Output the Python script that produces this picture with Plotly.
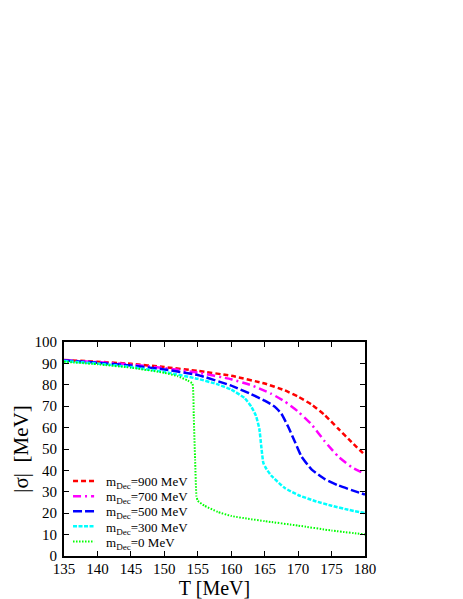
import plotly.graph_objs as go

# temperature grid and |sigma| curves
T_900 = [135, 140, 145, 150, 155, 160, 165, 168, 170, 172, 174, 176, 178, 180]
s_900 = [91.6, 90.8, 89.8, 88.3, 86.5, 84.2, 80.6, 77.4, 74.5, 70.8, 65.8, 59.5, 53.2, 47.2]

T_700 = [135, 140, 145, 150, 155, 160, 163, 166, 168, 170, 172, 174, 176, 178, 180]
s_700 = [91.5, 90.6, 89.5, 87.8, 85.7, 82.6, 79.8, 75.8, 72.2, 67.5, 61.5, 53.5, 46.5, 41.5, 38.3]

T_500 = [135, 140, 145, 150, 155, 160, 163, 165, 166.5, 167.5, 168.5, 169.5, 170.5, 172, 174, 176, 178, 180]
s_500 = [91.4, 90.3, 89.0, 87.2, 84.6, 79.6, 75.6, 72.6, 69.8, 66.5, 60.5, 53.5, 46.5, 40.5, 35.9, 33.0, 30.8, 28.7]

T_300 = [135, 140, 145, 150, 155, 158, 160, 162, 163, 163.7, 164.2, 164.5, 164.8, 165.2, 166, 168, 170, 172.5, 175, 177.5, 180]
s_300 = [91.1, 89.9, 88.3, 86.0, 82.8, 80.2, 77.8, 73.8, 69.8, 65.5, 59.5, 51.0, 43.5, 41.0, 37.5, 31.8, 28.5, 25.7, 23.5, 21.6, 20.0]

T_0 = [135, 140, 145, 150, 152, 153.5, 154.2, 154.4, 154.6, 154.8, 155, 156, 158, 160, 162.5, 165, 170, 175, 180]
s_0 = [90.8, 89.6, 88.0, 85.6, 84.0, 82.0, 80.5, 65.0, 45.0, 28.0, 25.8, 23.5, 20.6, 18.7, 17.4, 16.3, 14.2, 11.9, 10.1]

names = ["m<sub>Dec</sub>=900 MeV", "m<sub>Dec</sub>=700 MeV", "m<sub>Dec</sub>=500 MeV",
         "m<sub>Dec</sub>=300 MeV", "m<sub>Dec</sub>=0 MeV"]

curves = [
    (T_900, s_900, "#ff0000", "5px,3px", 2.5),
    (T_700, s_700, "#ff00ff", "8px,4px,2px,4px", 2.5),
    (T_500, s_500, "#0000ff", "9px,3px", 2.5),
    (T_300, s_300, "#00ffff", "4px,1.5px", 2.5),
    (T_0, s_0, "#00ff00", "1.5px,1.5px", 2),
]

serif = "'Liberation Serif', 'Times New Roman', serif"

fig = go.Figure()
for (x, y, col, dash, w), nm in zip(curves, names):
    fig.add_trace(go.Scatter(x=x, y=y, mode="lines", name=nm, showlegend=False,
                             line=dict(color=col, dash=dash, width=w, shape="spline", smoothing=0.4)))

# hand-made legend (the built-in one spaces its rows too far apart)
leg_top, leg_step = 0.350, 0.0705
for i, ((x, y, col, dash, w), nm) in enumerate(zip(curves, names)):
    yy = leg_top - i * leg_step
    fig.add_shape(type="line", xref="paper", yref="paper", x0=0.03, x1=0.10, y0=yy, y1=yy,
                  line=dict(color=col, dash=dash, width=w))
    fig.add_annotation(xref="paper", yref="paper", x=0.133, y=yy - 0.008, text=nm,
                       showarrow=False, xanchor="left", yanchor="middle",
                       font=dict(family=serif, size=13, color="black"))

axis_style = dict(showline=True, linecolor="black", linewidth=2, mirror="ticks",
                  ticks="inside", ticklen=5, tickwidth=1, tickcolor="black",
                  showgrid=False, zeroline=False, automargin=False,
                  tickfont=dict(family=serif, size=15, color="black"))

fig.update_layout(
    width=455, height=591,
    margin=dict(l=56, r=98, t=334, b=43),
    paper_bgcolor="white", plot_bgcolor="white",
    font=dict(family=serif, color="black"),
    xaxis=dict(range=[135, 180], dtick=5, ticklabelstandoff=-2, **axis_style,
               title=dict(text="T [MeV]", font=dict(family=serif, size=20), standoff=2)),
    yaxis=dict(range=[0, 100], dtick=10, ticklabelstandoff=2, **axis_style,
               title=dict(text="|σ|  [MeV]", font=dict(family=serif, size=21), standoff=0)),
    showlegend=False,
)

fig.write_html("out.html")
